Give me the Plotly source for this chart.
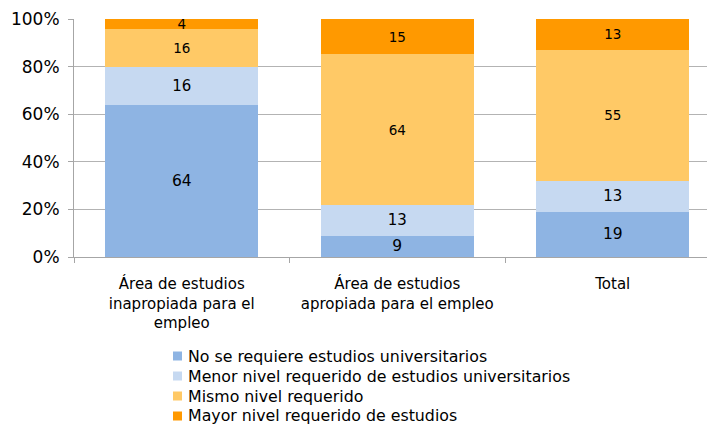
import plotly.graph_objects as go

categories = ["Área de estudios<br>inapropiada para el<br>empleo",
              "Área de estudios<br>apropiada para el empleo",
              "Total"]
series_names = ["No se requiere estudios universitarios",
                "Menor nivel requerido de estudios universitarios",
                "Mismo nivel requerido",
                "Mayor nivel requerido de estudios"]
no_requiere = [64, 9, 19]
menor_nivel = [16, 13, 13]
mismo_nivel = [16, 64, 55]
mayor_nivel = [4, 15, 13]
colors = ["#8EB4E3", "#C6D9F1", "#FFC966", "#FF9900"]
y_ticks = [0, 20, 40, 60, 80, 100]
y_tick_labels = ["0%", "20%", "40%", "60%", "80%", "100%"]

FONT = "DejaVu Sans"
W, H = 715, 427
# the page body adds an 8px offset; layout is expressed in figure pixels
ML, MT = 66, 11
PLOT_BOTTOM = 249
MB = H - PLOT_BOTTOM
PW = W - ML
PH = PLOT_BOTTOM - MT
cat_step = 215.5

label_sizes = [15.5, 15, 13.5, 13.5]

fig = go.Figure()
for name, vals, col, ts in zip(series_names, [no_requiere, menor_nivel, mismo_nivel, mayor_nivel],
                               colors, label_sizes):
    fig.add_trace(go.Bar(
        x=categories, y=vals, name=name, marker=dict(color=col, line=dict(width=0)),
        text=[str(v) for v in vals], textposition="inside", insidetextanchor="middle",
        textfont=dict(family=FONT, size=ts, color="#000000"), textangle=0,
        constraintext="none", hoverinfo="skip", showlegend=False))

# manual legend (figure pixel positions converted to paper coords)
def px_to_paper_x(px):
    return (px - ML) / PW

def px_to_paper_y(py):
    return (PLOT_BOTTOM - py) / PH

leg_centers = [348, 368, 388, 408]
sq_left, sq_size, text_left = 165, 9, 178
for name, col, cy in zip(series_names, colors, leg_centers):
    fig.add_shape(type="rect", xref="paper", yref="paper",
                  x0=px_to_paper_x(sq_left), x1=px_to_paper_x(sq_left + sq_size),
                  y0=px_to_paper_y(cy + sq_size / 2), y1=px_to_paper_y(cy - sq_size / 2),
                  fillcolor=col, line=dict(width=0), layer="above")
    fig.add_annotation(xref="paper", yref="paper", x=px_to_paper_x(text_left),
                       y=px_to_paper_y(cy), xanchor="left", yanchor="middle",
                       text=name, showarrow=False,
                       font=dict(family=FONT, size=15.8, color="#000000"))

fig.update_layout(
    barmode="stack", barnorm="percent", bargap=0.29,
    width=W, height=H,
    margin=dict(l=ML, r=0, t=MT, b=MB, autoexpand=False),
    plot_bgcolor="white", paper_bgcolor="white",
    font=dict(family=FONT, size=15, color="#000000"),
    showlegend=False,
)
fig.update_xaxes(
    range=[-0.5, -0.5 + PW / cat_step], showline=True, linecolor="#A6A6A6", linewidth=1,
    ticks="outside", tickson="boundaries", ticklen=5, tickcolor="#A6A6A6",
    ticklabelstandoff=13, automargin=False,
    tickfont=dict(family=FONT, size=15, color="#000000"), showgrid=False)
fig.update_yaxes(
    range=[0, 100], tickvals=y_ticks, ticktext=y_tick_labels,
    showline=True, linecolor="#A6A6A6", linewidth=1,
    ticks="outside", ticklen=5, tickcolor="#A6A6A6", ticklabelstandoff=5,
    showgrid=True, gridcolor="#B3B3B3", gridwidth=1, automargin=False,
    tickfont=dict(family=FONT, size=17, color="#000000"), zeroline=False)

fig.write_html("out.html")
